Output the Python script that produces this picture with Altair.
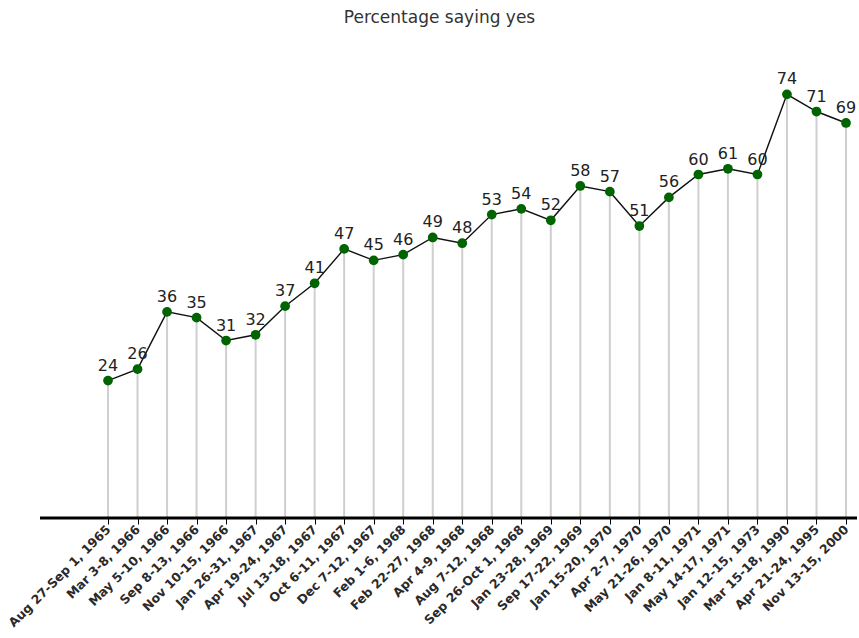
import altair as alt
import pandas as pd

# Poll dates and share of respondents answering "yes"
dates = [
    "Aug 27-Sep 1, 1965", "Mar 3-8, 1966", "May 5-10, 1966", "Sep 8-13, 1966",
    "Nov 10-15, 1966", "Jan 26-31, 1967", "Apr 19-24, 1967", "Jul 13-18, 1967",
    "Oct 6-11, 1967", "Dec 7-12, 1967", "Feb 1-6, 1968", "Feb 22-27, 1968",
    "Apr 4-9, 1968", "Aug 7-12, 1968", "Sep 26-Oct 1, 1968", "Jan 23-28, 1969",
    "Sep 17-22, 1969", "Jan 15-20, 1970", "Apr 2-7, 1970", "May 21-26, 1970",
    "Jan 8-11, 1971", "May 14-17, 1971", "Jan 12-15, 1973", "Mar 15-18, 1990",
    "Apr 21-24, 1995", "Nov 13-15, 2000",
]
pct_yes = [24, 26, 36, 35, 31, 32, 37, 41, 47, 45, 46, 49, 48,
           53, 54, 52, 58, 57, 51, 56, 60, 61, 60, 74, 71, 69]

df = pd.DataFrame({"date": dates, "pct": pct_yes, "zero": [0] * len(dates)})

FONT = "DejaVu Sans"
W, H = 817, 458

x = alt.X(
    "date:N",
    sort=dates,
    scale=alt.Scale(type="point", range=[68, 806], padding=0),
    axis=alt.Axis(
        title=None,
        domain=False,
        labelAngle=315,
        labelAlign="right",
        labelBaseline="middle",
        labelFont=FONT,
        labelFontSize=12.5,
        labelFontWeight="bold",
        labelColor="#2a2a2a",
        labelPadding=3,
        labelOverlap=False,
        tickColor="#000000",
        tickSize=6,
        tickWidth=1,
    ),
)
y_scale = alt.Scale(domain=[0, 80], nice=False)
y_pct = alt.Y("pct:Q", scale=y_scale, axis=None)

base = alt.Chart(df)

drops = base.mark_rule(color="#cfcfcf", strokeWidth=2).encode(
    x=x,
    y=alt.Y("zero:Q", scale=y_scale, axis=None),
    y2="pct:Q",
)

line = base.mark_line(color="#111111", strokeWidth=1.4).encode(x=x, y=y_pct)

points = base.mark_circle(color="#006400", opacity=1, size=95).encode(x=x, y=y_pct)

labels = base.mark_text(
    font=FONT, fontSize=16, color="#222222", baseline="alphabetic", dy=-10
).encode(x=x, y=y_pct, text="pct:Q")

# Thick horizontal baseline across the whole plot width
baseline = alt.Chart(pd.DataFrame({"zero": [0]})).mark_rule(
    color="#000000", strokeWidth=3
).encode(
    y=alt.Y("zero:Q", scale=y_scale, axis=None),
    x=alt.value(0),
    x2=alt.value(W),
)

chart = (
    alt.layer(drops, line, points, labels, baseline)
    .properties(
        width=W,
        height=H,
        title=alt.TitleParams(
            "Percentage saying yes",
            font=FONT,
            fontSize=17,
            fontWeight="normal",
            color="#333333",
            anchor="middle",
            offset=33,
            dx=-9,
        ),
        autosize=alt.AutoSizeParams(type="none"),
        padding={"left": 40, "top": 60, "right": 2, "bottom": 120},
    )
    .configure_view(stroke=None)
)

chart.save("out.html", embed_options={"renderer": "svg", "actions": False})
